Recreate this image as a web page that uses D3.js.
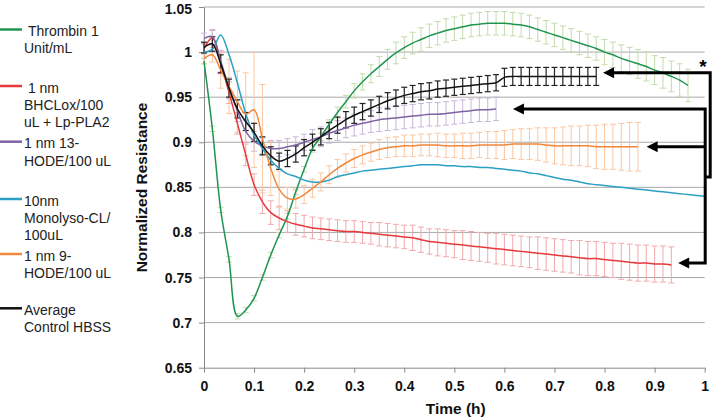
<!DOCTYPE html>
<html><head><meta charset="utf-8">
<script src="https://cdn.jsdelivr.net/npm/d3@7"></script>
<style>body{margin:0;background:#fff}svg{display:block}text{font-family:"Liberation Sans",Arial,sans-serif}</style>
</head><body><svg id="c" width="713" height="419"></svg>
<script>
// sampling interval: one reading per minute, time in hours
const minutesPerHour = 60;
const xTicks = [0,0.1,0.2,0.3,0.4,0.5,0.6,0.7,0.8,0.9,1];
const xTickLabels = ["0","0.1","0.2","0.3","0.4","0.5","0.6","0.7","0.8","0.9","1"];
const yTicks = [0.65,0.7,0.75,0.8,0.85,0.9,0.95,1,1.05];
const yTickLabels = ["0.65","0.7","0.75","0.8","0.85","0.9","0.95","1","1.05"];

const seriesNames = ["Thrombin 1 Unit/mL","1 nm BHCLox/100 uL + Lp-PLA2","1 nm 13-HODE/100 uL","10nm Monolyso-CL/100uL","1 nm 9-HODE/100 uL","Average Control HBSS"];
const legendLines = [["\u00a0Thrombin 1","Unit/mL"],["\u00a01 nm","BHCLox/100","uL + Lp-PLA2"],["1 nm 13-","HODE/100 uL"],["10nm","Monolyso-CL/","100uL"],["1 nm 9-","HODE/100 uL"],["Average","Control HBSS"]];

const thrombin = [0.99,0.915,0.825,0.77,0.707,0.714,0.727,0.75,0.775,0.797,0.818,0.845,0.87,0.893,0.906,0.92,0.933,0.945,0.957,0.967,0.976,0.984,0.992,0.999,1.005,1.01,1.014,1.018,1.021,1.024,1.026,1.028,1.03,1.031,1.032,1.032,1.032,1.031,1.03,1.028,1.025,1.022,1.019,1.016,1.013,1.01,1.007,1.004,1.0,0.997,0.993,0.99,0.987,0.984,0.98,0.977,0.973,0.969,0.963];
const thrombinErr = [0.003,0.003,0.003,0.003,0.003,0.003,0.003,0.003,0.003,0.003,0.003,0.003,0.003,0.004,0.004,0.005,0.006,0.007,0.008,0.009,0.01,0.011,0.011,0.012,0.012,0.012,0.013,0.013,0.013,0.013,0.013,0.013,0.013,0.013,0.013,0.013,0.013,0.013,0.013,0.013,0.013,0.013,0.013,0.013,0.013,0.013,0.013,0.013,0.014,0.014,0.015,0.015,0.016,0.016,0.016,0.017,0.017,0.018,0.018];

const bhclox = [1.004,1.016,0.988,0.955,0.921,0.886,0.853,0.834,0.822,0.816,0.812,0.809,0.807,0.805,0.804,0.803,0.802,0.801,0.801,0.8,0.799,0.798,0.797,0.796,0.795,0.794,0.792,0.79,0.789,0.788,0.787,0.786,0.785,0.784,0.783,0.782,0.781,0.78,0.779,0.778,0.777,0.776,0.775,0.774,0.773,0.772,0.771,0.771,0.77,0.769,0.768,0.767,0.766,0.766,0.765,0.765,0.764];
const bhcloxErr = [0.006,0.008,0.012,0.012,0.012,0.012,0.012,0.013,0.013,0.013,0.012,0.012,0.012,0.012,0.012,0.012,0.012,0.012,0.012,0.012,0.012,0.013,0.013,0.013,0.013,0.014,0.014,0.014,0.015,0.015,0.015,0.016,0.016,0.016,0.016,0.017,0.017,0.017,0.017,0.017,0.018,0.018,0.018,0.018,0.018,0.019,0.019,0.019,0.019,0.019,0.02,0.02,0.02,0.02,0.02,0.02,0.02];

const hode13 = [1.015,1.017,0.99,0.96,0.935,0.912,0.901,0.896,0.893,0.893,0.895,0.897,0.9,0.903,0.906,0.91,0.913,0.916,0.919,0.921,0.923,0.925,0.926,0.927,0.928,0.929,0.93,0.931,0.931,0.932,0.933,0.934,0.935,0.936,0.936,0.937];
const hode13Err = [0.006,0.008,0.012,0.012,0.012,0.012,0.011,0.009,0.009,0.009,0.009,0.009,0.009,0.011,0.011,0.011,0.011,0.011,0.012,0.012,0.012,0.013,0.013,0.013,0.013,0.013,0.013,0.013,0.013,0.013,0.013,0.013,0.013,0.013,0.013,0.013];

const monolyso = [1.0,1.003,1.019,0.997,0.966,0.932,0.908,0.893,0.88,0.871,0.865,0.862,0.858,0.856,0.856,0.858,0.862,0.864,0.866,0.868,0.869,0.87,0.871,0.872,0.873,0.874,0.875,0.875,0.875,0.874,0.874,0.873,0.873,0.872,0.872,0.871,0.87,0.869,0.868,0.866,0.865,0.863,0.861,0.859,0.858,0.856,0.854,0.853,0.852,0.851,0.85,0.849,0.848,0.847,0.846,0.845,0.844,0.843,0.842,0.841,0.84];

const hode9 = [0.993,0.997,0.98,0.962,0.945,0.931,0.936,0.904,0.871,0.848,0.838,0.837,0.842,0.849,0.856,0.864,0.871,0.877,0.882,0.886,0.889,0.892,0.894,0.895,0.896,0.896,0.897,0.897,0.897,0.896,0.896,0.896,0.896,0.897,0.897,0.897,0.897,0.898,0.898,0.898,0.898,0.897,0.896,0.896,0.896,0.896,0.896,0.895,0.895,0.895,0.895,0.895,0.895];
const hode9Err = [0.006,0.008,0.02,0.03,0.034,0.046,0.064,0.06,0.03,0.02,0.012,0.01,0.01,0.01,0.01,0.01,0.01,0.01,0.01,0.01,0.01,0.011,0.011,0.011,0.012,0.012,0.012,0.012,0.013,0.013,0.013,0.014,0.014,0.014,0.015,0.015,0.016,0.016,0.017,0.017,0.018,0.019,0.02,0.021,0.022,0.022,0.023,0.024,0.025,0.025,0.026,0.027,0.027];

const control = [1.005,1.009,0.987,0.96,0.937,0.923,0.911,0.896,0.885,0.879,0.882,0.887,0.894,0.9,0.906,0.913,0.919,0.925,0.93,0.934,0.938,0.942,0.946,0.949,0.952,0.954,0.956,0.957,0.959,0.96,0.961,0.962,0.963,0.964,0.965,0.966,0.972,0.973,0.973,0.973,0.973,0.973,0.973,0.973,0.973,0.973,0.973,0.973];
const controlErr = [0.006,0.008,0.01,0.01,0.01,0.01,0.01,0.01,0.01,0.009,0.009,0.009,0.009,0.009,0.009,0.009,0.009,0.009,0.009,0.009,0.009,0.009,0.009,0.009,0.009,0.009,0.009,0.009,0.009,0.009,0.009,0.009,0.009,0.009,0.009,0.009,0.01,0.01,0.01,0.01,0.01,0.01,0.01,0.01,0.01,0.01,0.01,0.01];

// annotation arrows: tip (time, value) of each series end marker
const arrowTips = [[0.797,0.977],[0.617,0.937],[0.884,0.895],[0.947,0.766]];

const lineColors = ["#1f9550","#e5393c","#7e62a2","#2ba0c2","#f0883c","#111111"];
const barColors  = ["#c2dcac","#f2a9ab","#c7b6dc","none","#fbc6a2","#222222"];
const values = [thrombin,bhclox,hode13,monolyso,hode9,control];
const errors = [thrombinErr,bhcloxErr,hode13Err,null,hode9Err,controlErr];

const svg = d3.select("#c");
const x = d3.scaleLinear().domain([0,1]).range([204,704.7]);
const y = d3.scaleLinear().domain([0.65,1.05]).range([367.7,7]);

// gridlines
svg.append("g").selectAll("line").data(yTicks.filter(v=>v>0.65)).join("line")
  .attr("x1",x(0)).attr("x2",x(1)).attr("y1",d=>y(d)).attr("y2",d=>y(d))
  .attr("stroke","#a9a9a9").attr("stroke-width",1);

// axes
const yAxis = svg.append("g").attr("transform",`translate(${x(0)},0)`)
  .call(d3.axisLeft(y).tickValues(yTicks).tickFormat((d,i)=>yTickLabels[i]).tickSizeInner(5).tickSizeOuter(0).tickPadding(7));
const xAxis = svg.append("g").attr("transform",`translate(0,${y(0.65)})`)
  .call(d3.axisBottom(x).tickValues(xTicks).tickFormat((d,i)=>xTickLabels[i]).tickSizeInner(5).tickSizeOuter(0).tickPadding(8));
[yAxis,xAxis].forEach(g=>{
  g.selectAll("path,line").attr("stroke","#8a8a8a");
  g.selectAll("text").attr("font-family","Liberation Sans, Arial, sans-serif").attr("font-size",14).attr("font-weight","bold").attr("fill","#111");
});
yAxis.selectAll("text").filter((d)=>d===1.05).attr("dy","0.45em");

// error bars
const cap = 3;
values.forEach((vals,s)=>{
  const err = errors[s]; if(!err) return;
  const g = svg.append("g").attr("stroke",barColors[s]).attr("stroke-width", s===5?1.2:1);
  vals.forEach((v,i)=>{
    const t = i/minutesPerHour, e = err[i];
    const X = x(t), y1 = y(v-e), y2 = y(v+e);
    g.append("line").attr("x1",X).attr("x2",X).attr("y1",y1).attr("y2",y2);
    g.append("line").attr("x1",X-cap).attr("x2",X+cap).attr("y1",y1).attr("y2",y1);
    g.append("line").attr("x1",X-cap).attr("x2",X+cap).attr("y1",y2).attr("y2",y2);
  });
});

// lines
const line = d3.line().x((d,i)=>x(i/minutesPerHour)).y(d=>y(d)).curve(d3.curveCatmullRom.alpha(0.5));
values.forEach((vals,s)=>{
  svg.append("path").datum(vals).attr("d",line).attr("fill","none")
    .attr("stroke",lineColors[s]).attr("stroke-width",1.5);
});

// legend
const legendY = [29.5,86,141.7,199,254,308.3];
const lg = svg.append("g");
legendLines.forEach((lines,s)=>{
  lg.append("line").attr("x1",0).attr("x2",22).attr("y1",legendY[s]).attr("y2",legendY[s])
    .attr("stroke",lineColors[s]).attr("stroke-width",2.5);
  lines.forEach((txt,k)=>{
    lg.append("text").attr("x",24).attr("y",legendY[s]+1.5+k*17.3+5)
      .attr("font-size",14).attr("fill","#222").text(txt);
  });
});

// axis titles
svg.append("text").attr("transform",`translate(147,187.5) rotate(-90)`).attr("text-anchor","middle")
  .attr("font-size",15.5).attr("font-weight","bold").attr("fill","#111").text("Normalized Resistance");
svg.append("text").attr("x",455.7).attr("y",413.5).attr("text-anchor","middle")
  .attr("font-size",15.5).attr("font-weight","bold").attr("fill","#111").text("Time (h)");

// annotation arrows
const ag = svg.append("g").attr("stroke","#000").attr("stroke-width",3).attr("fill","none");
const xr = x(1)+0.5, xr2 = x(1)+5.5;
const tips = arrowTips.map(([t,v])=>[x(t),y(v)]);
ag.append("path").attr("d",`M${tips[0][0]+9},${tips[0][1]}H${xr2}V177H${xr}`);
ag.append("path").attr("d",`M${tips[1][0]+9},${tips[1][1]}H${xr}V${tips[3][1]}H${tips[3][0]+9}`);
ag.append("path").attr("d",`M${tips[2][0]+9},${tips[2][1]}H${xr}`);
tips.forEach(([tx,ty])=>{
  svg.append("path").attr("d",`M${tx},${ty}L${tx+11},${ty-5.5}L${tx+11},${ty+5.5}Z`).attr("fill","#000");
});
svg.append("text").attr("x",703).attr("y",73).attr("text-anchor","middle")
  .attr("font-size",19).attr("font-weight","bold").attr("fill","#000").text("*");
</script></body></html>
